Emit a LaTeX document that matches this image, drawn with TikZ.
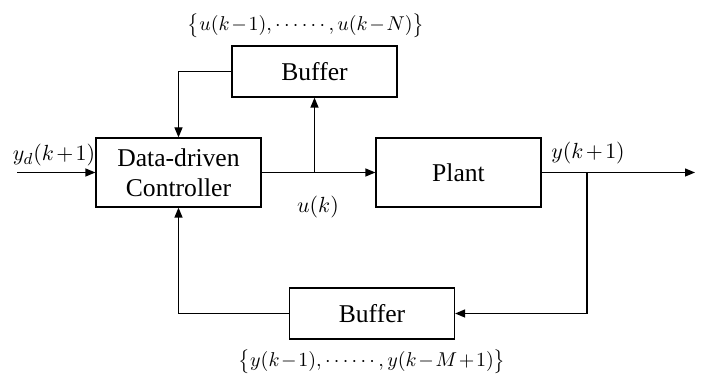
\documentclass[tikz,border=0pt]{standalone}
\usepackage{fontspec}
\setmainfont{Liberation Serif}
\usetikzlibrary{arrows.meta}

\tikzset{
  blk/.style={draw, line width=0.6pt, minimum width=82.5pt, font=\fontsize{12.8}{15}\selectfont, align=center},
  sig/.style={line width=0.6pt, -{Triangle[length=5pt,width=4pt]}},
  lbl/.style={font=\fontsize{11}{13}\selectfont, execute at begin node={\medmuskip=2mu\relax}},
  seq/.style={inner sep=0.5pt, font=\fontsize{10.2}{12}\selectfont, execute at begin node={\medmuskip=1.5mu\relax}}
}

\begin{document}
\begin{tikzpicture}[x=0.5pt,y=0.5pt]
    \useasboundingbox (0,0) rectangle (708,385);

    % Blocs
    \node[blk, minimum height=25.5pt] (bufu) at (314.5, 313.5) {Buffer};
    \node[blk, minimum height=34.5pt, inner sep=1pt] (ctrl) at (178.5, 212.5) {Data-driven\\Controller};
    \node[blk, minimum height=34.5pt] (plant) at (458.5, 212.5) {Plant};
    \node[blk, minimum height=25.5pt] (bufy) at (372, 71.5) {Buffer};

    % Points
    \coordinate (in) at (17, 212.5);
    \coordinate (out) at (695, 212.5);
    \coordinate (ub) at (bufu.south |- ctrl.east);
    \coordinate (yb) at (587, 212.5);

    % Signaux
    \draw[sig] (in) -- (ctrl.west);
    \draw[sig] (ctrl.east) -- (plant.west);
    \draw[sig] (ub) -- (bufu.south);
    \draw[sig] (plant.east) -- (out);
    \draw[sig] (bufu.west) -| (ctrl.north);
    \draw[sig] (yb) |- (bufy.east);
    \draw[sig] (bufy.west) -| (ctrl.south);

    % Etiquettes
    \node[lbl] (yd) at (54, 230) {$y_{d}(k+1)$};
    \node[lbl] (uk) at (318, 178) {$u(k)$};
    \node[lbl] (yk) at (588, 232) {$y(k+1)$};
    \node[seq] (useq) at (306, 359) {$\bigl\{u(k-1),\cdots\cdots,u(k-N)\bigr\}$};
    \node[seq] (yseq) at (372, 23) {$\bigl\{y(k-1),\cdots\cdots,y(k-M+1)\bigr\}$};
\end{tikzpicture}
\end{document}
